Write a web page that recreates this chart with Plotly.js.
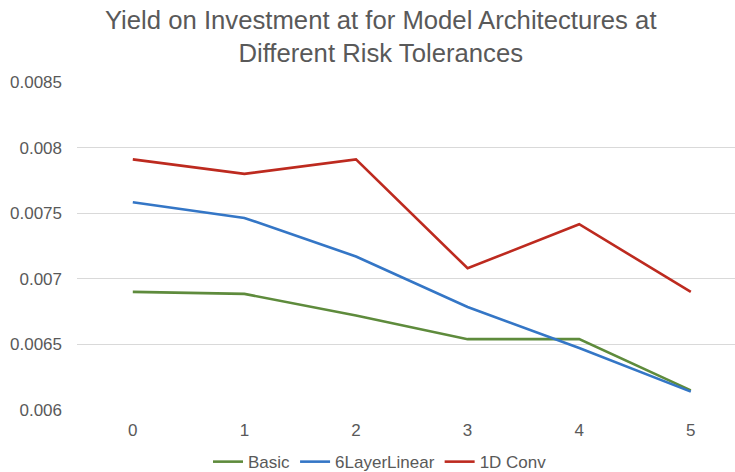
<!DOCTYPE html>
<html>
<head>
<meta charset="utf-8">
<script src="https://cdn.plot.ly/plotly-3.0.1.min.js"></script>
<style>html,body{margin:0;padding:0;background:#fff;}#chart{width:735px;height:472px;}</style>
</head>
<body>
<div id="chart"></div>
<script>
const categories = ["0", "1", "2", "3", "4", "5"];
const basic = [0.00690, 0.006885, 0.00672, 0.00654, 0.00654, 0.00615];
const sixLayerLinear = [0.007584, 0.007464, 0.00717, 0.006785, 0.006473, 0.00614];
const conv1d = [0.00791, 0.00780, 0.00791, 0.00708, 0.007416, 0.00690];
const yTicks = [0.006, 0.0065, 0.007, 0.0075, 0.008, 0.0085];
const yTickText = ["0.006", "0.0065", "0.007", "0.0075", "0.008", "0.0085"];

const xIdx = categories.map((c, i) => i);
const mk = (name, y, color) => ({
  type: "scatter", mode: "lines", name: name, x: xIdx, y: y,
  line: {color: color, width: 2.6}, hoverinfo: "skip"
});
const traces = [
  mk("Basic", basic, "#5E8B3C"),
  mk("6LayerLinear", sixLayerLinear, "#3476C6"),
  mk("1D Conv", conv1d, "#BD2A1F")
];
const font = {family: "Liberation Sans, Arial, sans-serif", color: "#595959"};
const layout = {
  width: 735, height: 472,
  margin: {l: 77, r: 0, t: 82, b: 62},
  paper_bgcolor: "#fff", plot_bgcolor: "#fff",
  font: Object.assign({size: 17}, font),
  title: {
    text: "Yield on Investment at for Model Architectures at<br>Different Risk Tolerances",
    font: Object.assign({size: 25.7}, font),
    x: 0.518, xref: "container", xanchor: "center",
    y: 0.939, yref: "container", yanchor: "middle"
  },
  xaxis: {
    range: [-0.5, 5.396], tickvals: xIdx, ticktext: categories,
    showgrid: false, zeroline: false, showline: false, ticks: "",
    tickfont: Object.assign({size: 17}, font), ticklabelstandoff: 8, fixedrange: true
  },
  yaxis: {
    range: [0.006, 0.0085], tickvals: yTicks, ticktext: yTickText,
    showgrid: true, gridcolor: "#d9d9d9", gridwidth: 1, zeroline: false, showline: false, ticks: "",
    tickfont: Object.assign({size: 17}, font), ticklabelstandoff: 14, fixedrange: true
  },
  showlegend: true,
  legend: {
    orientation: "h", xref: "container", yref: "container",
    x: 0.517, xanchor: "center", y: 0.021, yanchor: "middle",
    font: Object.assign({size: 17}, font), itemwidth: 30, tracegroupgap: 0
  }
};
Plotly.newPlot("chart", traces, layout, {displayModeBar: false, staticPlot: true});
</script>
</body>
</html>
